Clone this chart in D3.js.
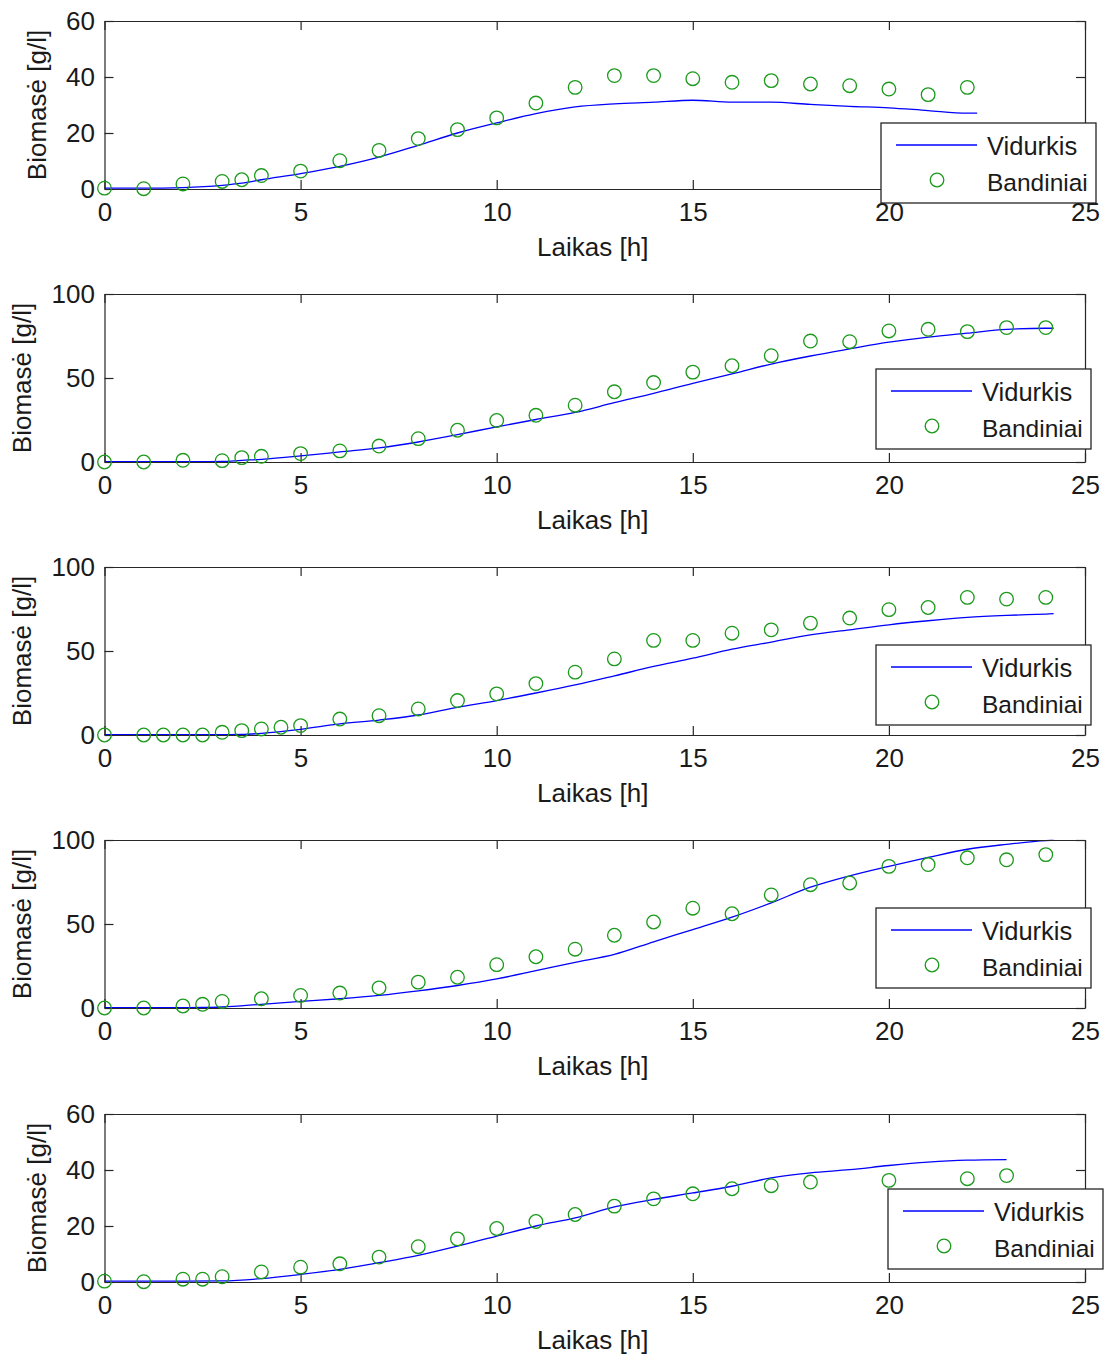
<!DOCTYPE html>
<html>
<head>
<meta charset="utf-8">
<script src="https://cdn.jsdelivr.net/npm/d3@7"></script>
<style>
  body { margin: 0; background: #fff; }
  svg { display: block; }
  text { font-family: "Liberation Sans", Arial, Helvetica, sans-serif; fill: #1a1a1a; }
</style>
</head>
<body>
<svg id="chart" width="1110" height="1358"></svg>
<script>
// ---- Measured biomass (Bandiniai) and fitted mean (Vidurkis), g/l vs hours ----
const sampleT1 = [0, 1, 2, 3, 3.5, 4, 5, 6, 7, 8, 9, 10, 11, 12, 13, 14, 15, 16, 17, 18, 19, 20, 21, 22];
const sampleX1 = [0.3, 0.1, 1.8, 2.7, 3.3, 4.8, 6.4, 10.1, 13.8, 18.0, 21.2, 25.4, 30.7, 36.3, 40.5, 40.5, 39.4, 38.1, 38.7, 37.5, 36.9, 35.7, 33.7, 36.3];
const meanT1 = [0, 1, 2, 3, 3.5, 4, 5, 6, 7, 8, 9, 10, 11, 12, 13, 14, 15, 16, 17, 18, 19, 20, 21, 22, 22.25];
const meanX1 = [0.3, 0.3, 0.5, 1.3, 2.1, 3.3, 5.5, 8.1, 11.4, 15.6, 20.0, 23.6, 26.9, 29.3, 30.4, 31.0, 31.7, 31.0, 31.0, 30.2, 29.5, 29.0, 28.0, 27.1, 27.1];

const sampleT2 = [0, 1, 2, 3, 3.5, 4, 5, 6, 7, 8, 9, 10, 11, 12, 13, 14, 15, 16, 17, 18, 19, 20, 21, 22, 23, 24];
const sampleX2 = [0, 0, 1, 0.8, 2.6, 3.4, 5, 6.6, 9.5, 13.9, 18.9, 24.7, 27.8, 33.8, 41.8, 47.3, 53.5, 57.3, 63.3, 72, 71.6, 78, 79, 77.6, 80, 80];
const meanT2 = [0, 1, 2, 3, 3.5, 4, 5, 6, 7, 8, 9, 10, 11, 12, 13, 14, 15, 16, 17, 18, 19, 20, 21, 22, 23, 24, 24.2];
const meanX2 = [0.2, 0.2, 0.2, 0.3, 1, 1.6, 3.6, 6, 8.4, 11.9, 16.3, 20.9, 25.3, 29.5, 35.3, 40.8, 46.8, 52.4, 58.3, 63.1, 67.3, 71.3, 74.3, 76.7, 79, 79.6, 79.6];

const sampleT3 = [0, 1, 1.5, 2, 2.5, 3, 3.5, 4, 4.5, 5, 6, 7, 8, 9, 10, 11, 12, 13, 14, 15, 16, 17, 18, 19, 20, 21, 22, 23, 24];
const sampleX3 = [0, 0, 0, 0, 0, 1.6, 2.6, 3.6, 4.6, 5.6, 9.5, 11.5, 15.5, 20.5, 24.5, 30.6, 37.4, 45.3, 56.3, 56.3, 60.6, 62.6, 66.6, 69.6, 74.6, 75.9, 81.9, 80.9, 81.9];
const meanT3 = [0, 1, 2, 3, 3.5, 4, 5, 6, 7, 8, 9, 10, 11, 12, 13, 14, 15, 16, 17, 18, 19, 20, 21, 22, 23, 24, 24.2];
const meanX3 = [0.2, 0.2, 0.2, 0.2, 0.3, 1, 3.4, 6.6, 8.9, 11.9, 16.5, 20.5, 25, 29.8, 35.2, 40.8, 45.7, 51.1, 55.3, 59.6, 62.6, 65.6, 68, 70, 71.2, 72, 72.2];

const sampleT4 = [0, 1, 2, 2.5, 3, 4, 5, 6, 7, 8, 9, 10, 11, 12, 13, 14, 15, 16, 17, 18, 19, 20, 21, 22, 23, 24];
const sampleX4 = [0, 0, 1.2, 2.2, 3.9, 5.5, 7.5, 8.9, 12, 15.4, 18.3, 25.8, 30.5, 35, 43.3, 51.2, 59.4, 56.1, 67.3, 73.4, 74.4, 84.3, 85.4, 89.4, 88.2, 91.3];
const meanT4 = [0, 1, 2, 2.5, 3, 4, 5, 6, 7, 8, 9, 10, 11, 12, 13, 14, 15, 16, 17, 18, 19, 20, 21, 22, 23, 24, 24.2];
const meanX4 = [0.2, 0.2, 0.2, 0.3, 0.6, 2.2, 3.9, 5.5, 7.5, 10.2, 13.4, 17.3, 22.2, 27.2, 31.9, 39.4, 46.7, 54.1, 62.6, 71.9, 78.7, 84.3, 89.6, 94.5, 97.4, 99.6, 99.8];

const sampleT5 = [0, 1, 2, 2.5, 3, 4, 5, 6, 7, 8, 9, 10, 11, 12, 13, 14, 15, 16, 17, 18, 20, 22, 23];
const sampleX5 = [0.3, 0.1, 1, 1, 1.9, 3.6, 5.3, 6.5, 8.9, 12.6, 15.4, 19.1, 21.6, 24.1, 27.1, 29.7, 31.5, 33.3, 34.4, 35.7, 36.3, 36.9, 38];
const meanT5 = [0, 1, 2, 3, 4, 5, 6, 7, 8, 9, 10, 11, 12, 13, 14, 15, 16, 17, 18, 19, 20, 21, 22, 23];
const meanX5 = [0.3, 0.3, 0.3, 0.4, 1.2, 2.7, 4.5, 6.9, 9.5, 12.8, 16.4, 20, 22.9, 26.8, 29.5, 31.8, 34.2, 37.2, 39, 40.1, 41.6, 42.8, 43.5, 43.7];

// Axis ranges and tick labels
const xTicks = [0, 5, 10, 15, 20, 25];
const yMaxes = [60, 100, 100, 100, 60];
const yTicks60 = [0, 20, 40, 60];
const yTicks100 = [0, 50, 100];

const seriesLabels = ["Vidurkis", "Bandiniai"];
const xTitle = "Laikas [h]";
const yTitle = "Biomasė [g/l]";

// ---- Layout ----
const plotLeft = 104.5, plotRight = 1085, plotH = 168;
const panelTops = [21, 294, 567, 840, 1114];
const legendBoxes = [[881, 123], [876, 369], [876, 645], [876, 908], [888, 1189]];
const legendW = 215, legendH = 80;
const FONT = 26;
const AXIS_COLOR = "#262626";
const LINE_COLOR = "#0000ff";
const MARK_COLOR = "#1b9a1b";

const panels = [
  { sT: sampleT1, sX: sampleX1, mT: meanT1, mX: meanX1, yTicks: yTicks60 },
  { sT: sampleT2, sX: sampleX2, mT: meanT2, mX: meanX2, yTicks: yTicks100 },
  { sT: sampleT3, sX: sampleX3, mT: meanT3, mX: meanX3, yTicks: yTicks100 },
  { sT: sampleT4, sX: sampleX4, mT: meanT4, mX: meanX4, yTicks: yTicks100 },
  { sT: sampleT5, sX: sampleX5, mT: meanT5, mX: meanX5, yTicks: yTicks60 }
];

const svg = d3.select("#chart");
const x = d3.scaleLinear().domain([0, 25]).range([plotLeft, plotRight]);

panels.forEach((p, i) => {
  const top = panelTops[i], bottom = top + plotH;
  const y = d3.scaleLinear().domain([0, yMaxes[i]]).range([bottom, top]);
  const g = svg.append("g");

  const styleAxis = sel => {
    sel.attr("font-size", FONT).attr("font-family", null);
    sel.select(".domain").attr("stroke", AXIS_COLOR).attr("stroke-width", 1.2);
    sel.selectAll(".tick line").attr("stroke", AXIS_COLOR).attr("stroke-width", 1.2);
    sel.selectAll(".tick text").attr("fill", "#1a1a1a");
  };

  // Mean curve
  const line = d3.line()
    .x((d, k) => x(p.mT[k]))
    .y(d => y(d))
    .curve(d3.curveMonotoneX);
  g.append("path")
    .attr("d", line(p.mX))
    .attr("fill", "none")
    .attr("stroke", LINE_COLOR)
    .attr("stroke-width", 1.3);

  // Axes (ticks inward on all four sides)
  g.append("g").attr("transform", `translate(0,${bottom})`)
    .call(d3.axisBottom(x).tickValues(xTicks).tickSize(-9).tickSizeOuter(0).tickPadding(14).tickFormat(d3.format("d")))
    .call(styleAxis);
  g.append("g").attr("transform", `translate(0,${top})`)
    .call(d3.axisTop(x).tickValues(xTicks).tickSize(-9).tickSizeOuter(0).tickFormat(""))
    .call(styleAxis);
  const yAxisG = g.append("g").attr("transform", `translate(${plotLeft},0)`)
    .call(d3.axisLeft(y).tickValues(p.yTicks).tickSize(-9).tickSizeOuter(0).tickPadding(9.5).tickFormat(d3.format("d")))
    .call(styleAxis);
  g.append("g").attr("transform", `translate(${plotRight},0)`)
    .call(d3.axisRight(y).tickValues(p.yTicks).tickSize(-9).tickSizeOuter(0).tickFormat(""))
    .call(styleAxis);

  // Sample markers
  g.append("g").selectAll("circle")
    .data(p.sX)
    .join("circle")
    .attr("cx", (d, k) => x(p.sT[k]))
    .attr("cy", d => y(d))
    .attr("r", 6.8)
    .attr("fill", "none")
    .attr("stroke", MARK_COLOR)
    .attr("stroke-width", 1.3);

  // Axis titles
  g.append("text")
    .attr("x", (plotLeft + plotRight) / 2 - 2)
    .attr("y", bottom + 67)
    .attr("text-anchor", "middle")
    .attr("font-size", FONT)
    .text(xTitle);

  let widest = 0;
  yAxisG.selectAll(".tick text").each(function () {
    widest = Math.max(widest, this.getComputedTextLength());
  });
  const yTitleX = plotLeft - 9.5 - widest - 20.5;
  g.append("text")
    .attr("transform", `translate(${yTitleX},${(top + bottom) / 2}) rotate(-90)`)
    .attr("text-anchor", "middle")
    .attr("font-size", FONT)
    .text(yTitle);

  // Legend
  const [lx, ly] = legendBoxes[i];
  const lg = g.append("g").attr("transform", `translate(${lx},${ly})`);
  lg.append("rect")
    .attr("width", legendW).attr("height", legendH)
    .attr("fill", "#fff").attr("stroke", AXIS_COLOR).attr("stroke-width", 1.3);
  lg.append("line")
    .attr("x1", 15).attr("x2", 96).attr("y1", 22).attr("y2", 22)
    .attr("stroke", LINE_COLOR).attr("stroke-width", 1.3);
  lg.append("circle")
    .attr("cx", 56).attr("cy", 57).attr("r", 6.8)
    .attr("fill", "none").attr("stroke", MARK_COLOR).attr("stroke-width", 1.3);
  lg.append("text").attr("x", 106).attr("y", 32).attr("font-size", 25.5).text(seriesLabels[0]);
  lg.append("text").attr("x", 106).attr("y", 68).attr("font-size", 24.5).text(seriesLabels[1]);
});
</script>
</body>
</html>
